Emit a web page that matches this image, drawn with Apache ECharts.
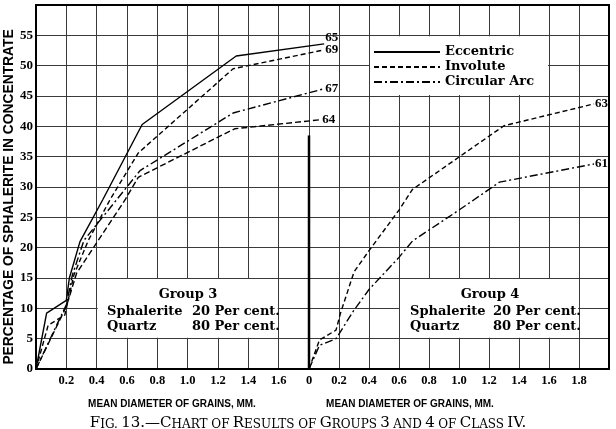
<!DOCTYPE html>
<html><head><meta charset="utf-8">
<script src="https://cdn.jsdelivr.net/npm/echarts@6/dist/echarts.min.js"></script>
<style>html,body{margin:0;padding:0;background:#fff}#c{width:616px;height:429px}</style>
</head><body><div id="c"></div>
<script>
// ---- tick labels ----
const yTicks = [0, 5, 10, 15, 20, 25, 30, 35, 40, 45, 50, 55];
const xTicksG3 = [0.2, 0.4, 0.6, 0.8, 1.0, 1.2, 1.4, 1.6];
const xTicksG4 = [0, 0.2, 0.4, 0.6, 0.8, 1.0, 1.2, 1.4, 1.6, 1.8];
const legendNames = ['Eccentric', 'Involute', 'Circular Arc'];

// ---- Group 3 curves [mean diameter mm, % sphalerite] ----
const g3Eccentric65 = [[0,0],[0.07,9.2],[0.2,11.3],[0.22,15],[0.29,21],[0.44,27.9],[0.7,40.3],[1.32,51.6],[1.9,53.6]];
const g3Involute69  = [[0,0],[0.08,7.2],[0.19,8.9],[0.25,15.5],[0.345,21.2],[0.49,28],[0.674,35.6],[1.3,49.5],[1.9,52.6]];
const g3Circular67  = [[0,0],[0.2,10.6],[0.24,15.5],[0.316,21.2],[0.686,32.7],[1.3,42.2],[1.9,46.2]];
const g3Dashed64    = [[0,0],[0.2,10.3],[0.268,15.8],[0.41,21.2],[0.59,28],[0.674,31.6],[1.31,39.6],[1.88,41.1]];

// ---- Group 4 curves ----
const g4Involute63 = [[0,0],[0.07,4.8],[0.18,6.4],[0.21,9.2],[0.3,16],[0.4,19.5],[0.6,26.2],[0.69,29.6],[1.3,40.1],[1.9,43.7]];
const g4Circular61 = [[0,0],[0.07,3.9],[0.18,5.0],[0.3,9.7],[0.4,13.1],[0.6,18.4],[0.69,21.1],[1.0,26.2],[1.27,30.8],[1.9,33.8]];

const dividerTop = 38.5;

const NUM = 'Liberation Serif';
const SERIF = 'DejaVu Serif';
const DASH = [5, 3];
const DASHDOT = [8, 3, 2, 3];
const LONGDASH = [6, 3];

function near(list, v) { return list.some(t => Math.abs(t - v) < 1e-6); }
function fmtX(list) { return v => near(list, v) ? (Math.abs(v) < 1e-6 ? '0' : v.toFixed(1)) : ''; }

const gridLine = { show: true, showMinLine: false, showMaxLine: false, lineStyle: { color: '#3a3a3a', width: 1 } };

function mk(name, data, gi, dash, endText, offset) {
  return {
    type: 'line', name: name, data: data, xAxisIndex: gi, yAxisIndex: gi,
    symbol: 'none', showSymbol: false, clip: false, z: 5,
    lineStyle: { color: '#000', width: 1.4, type: dash },
    itemStyle: { color: '#000' },
    emphasis: { disabled: true },
    endLabel: { show: true, formatter: endText, fontFamily: NUM, fontWeight: 'bold', fontSize: 13, color: '#000', distance: 1, offset: offset || [0, 0] }
  };
}

const chart = echarts.init(document.getElementById('c'));
const axisBase = { type: 'value', axisLine: { show: false }, axisTick: { show: false }, splitLine: gridLine };
const pxPerUnitG3 = 273 / 1.8;
chart.setOption({
  animation: false,
  backgroundColor: '#fff',
  grid: [
    { left: 36, top: 5, width: pxPerUnitG3 * 1.9, height: 364 },
    { left: 309, top: 5, width: 300, height: 364 }
  ],
  xAxis: [
    Object.assign({}, axisBase, { gridIndex: 0, min: 0, max: 1.9, interval: 0.2,
      axisLabel: { formatter: fmtX(xTicksG3), margin: 5, fontFamily: NUM, fontWeight: 'bold', fontSize: 12.5, color: '#000', showMinLabel: true, showMaxLabel: true } }),
    Object.assign({}, axisBase, { gridIndex: 1, min: 0, max: 2.0, interval: 0.2,
      axisLabel: { formatter: fmtX(xTicksG4), margin: 5, fontFamily: NUM, fontWeight: 'bold', fontSize: 12.5, color: '#000', showMinLabel: true, showMaxLabel: true } })
  ],
  yAxis: [
    Object.assign({}, axisBase, { gridIndex: 0, min: 0, max: 60, interval: 5,
      axisLabel: { formatter: v => near(yTicks, v) ? String(v) : '', margin: 3, fontFamily: NUM, fontWeight: 'bold', fontSize: 13, color: '#000' } }),
    Object.assign({}, axisBase, { gridIndex: 1, min: 0, max: 60, interval: 5, axisLabel: { show: false } })
  ],
  legend: {
    data: legendNames, orient: 'vertical', left: 373, top: 45, padding: 0, itemGap: 1,
    itemWidth: 66, itemHeight: 14, z: 20, selectedMode: false,
    itemStyle: { opacity: 0, borderWidth: 0 },
    textStyle: { fontFamily: SERIF, fontWeight: 'bold', fontSize: 13, color: '#000', lineHeight: 14 }
  },
  series: [
    mk('Eccentric', g3Eccentric65, 0, 'solid', '65', [0, -6]),
    mk('Involute', g3Involute69, 0, DASH, '69', [0, 0]),
    mk('Circular Arc', g3Circular67, 0, DASHDOT, '67', [0, 0]),
    mk('Involute', g3Dashed64, 0, LONGDASH, '64', [0, 0]),
    mk('Involute', g4Involute63, 1, DASH, '63', [0, 0]),
    mk('Circular Arc', g4Circular61, 1, DASHDOT, '61', [0, 0])
  ]
});

const p = (gi, x, y) => chart.convertToPixel({ gridIndex: gi }, [x, y]);
function box(gi, x0, x1, y0, y1) {
  const a = p(gi, x0, y1), b = p(gi, x1, y0);
  return { type: 'rect', z: 10, shape: { x: a[0] + 1, y: a[1] + 1, width: b[0] - a[0] - 2, height: b[1] - a[1] - 2 }, style: { fill: '#fff' } };
}
function txt(x, y, text, font, align, extra) {
  return Object.assign({ type: 'text', z: 11, x: x, y: y,
    style: { text: text, font: font, fill: '#000', align: align || 'left', verticalAlign: 'middle' } }, extra || {});
}
const tl = p(0, 0, 60), br = p(1, 2.0, 0);
const d0 = p(0, 1.8, 0), d1 = p(0, 1.8, dividerTop);
const boxFont = 'bold 13px "DejaVu Serif"';
const nameFont = 'bold 10px "Liberation Sans"';

chart.setOption({
  graphic: [
    box(0, 0.4, 1.6, 5, 15),
    box(1, 0.4, 1.6, 45, 55),
    box(1, 0.6, 1.8, 5, 15),
    { type: 'rect', z: 12, shape: { x: tl[0], y: tl[1], width: br[0] - tl[0], height: br[1] - tl[1] },
      style: { fill: null, stroke: '#000', lineWidth: 2 } },
    { type: 'line', z: 12, shape: { x1: d0[0], y1: d0[1], x2: d1[0], y2: d1[1] }, style: { stroke: '#000', lineWidth: 2.5 } },
    txt(188, 295, 'Group 3', boxFont, 'center'),
    txt(107, 312, 'Sphalerite', boxFont), txt(192, 312, '20 Per cent.', boxFont),
    txt(107, 327, 'Quartz', boxFont), txt(192, 327, '80 Per cent.', boxFont),
    txt(490, 295, 'Group 4', boxFont, 'center'),
    txt(410, 312, 'Sphalerite', boxFont), txt(493, 312, '20 Per cent.', boxFont),
    txt(410, 327, 'Quartz', boxFont), txt(493, 327, '80 Per cent.', boxFont),
    txt(172, 404, 'MEAN DIAMETER OF GRAINS, MM.', nameFont, 'center'),
    txt(410, 404, 'MEAN DIAMETER OF GRAINS, MM.', nameFont, 'center'),
    txt(9.5, 197, 'PERCENTAGE OF SPHALERITE IN CONCENTRATE', 'bold 13.8px "Liberation Sans"', 'center', { rotation: Math.PI / 2 }),
    { type: 'text', z: 11, x: 308, y: 423,
      style: {
        text: '{b|F}{s|IG.} {b|13.—C}{s|HART OF} {b|R}{s|ESULTS OF} {b|G}{s|ROUPS} {b|3} {s|AND} {b|4} {s|OF} {b|C}{s|LASS} {b|IV.}',
        align: 'center', verticalAlign: 'middle', fill: '#000',
        rich: {
          b: { fontFamily: SERIF, fontSize: 15, fill: '#000', verticalAlign: 'bottom' },
          s: { fontFamily: SERIF, fontSize: 12, fill: '#000', verticalAlign: 'bottom' }
        }
      } }
  ]
});
</script>
</body></html>
